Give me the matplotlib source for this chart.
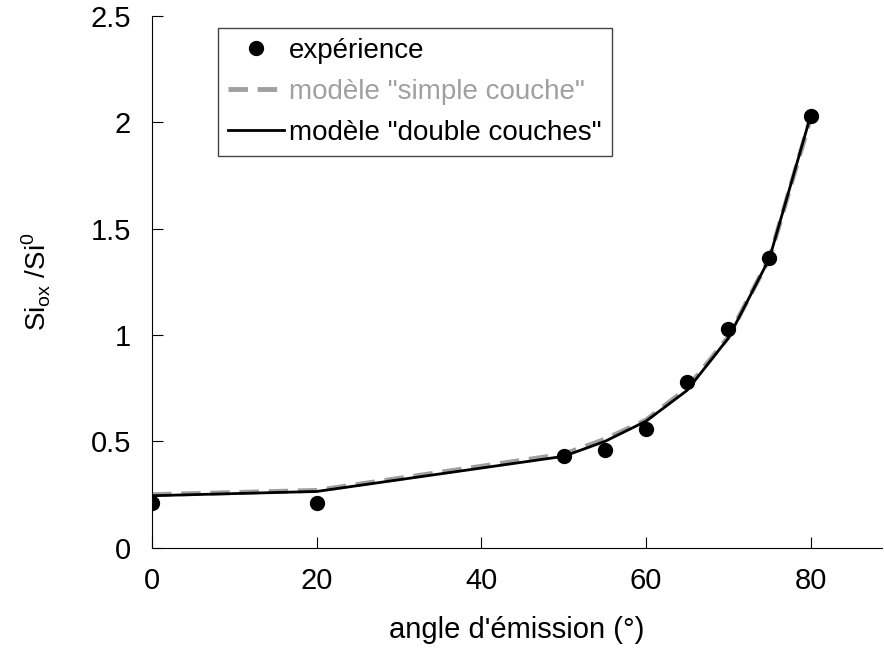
import numpy as np
import matplotlib.pyplot as plt

plt.rcParams['font.family'] = ['Liberation Sans', 'DejaVu Sans']

# données
angle_exp = [0, 20, 50, 55, 60, 65, 70, 75, 80]
ratio_exp = [0.21, 0.21, 0.43, 0.46, 0.56, 0.78, 1.03, 1.36, 2.03]

angle_mod = [0, 20, 50, 55, 60, 65, 70, 75, 80]
ratio_simple = [0.25, 0.27, 0.44, 0.51, 0.60, 0.75, 0.99, 1.36, 2.02]
ratio_double = [0.245, 0.265, 0.43, 0.50, 0.595, 0.74, 0.985, 1.36, 2.03]

fig = plt.figure(figsize=(8.84, 6.53), dpi=100)
ax = fig.add_axes([0.172, 0.161, 0.826, 0.815])

ax.plot(angle_mod, ratio_simple, '--', color='#a0a0a0', lw=3.5, dashes=(4, 2),
        label='modèle "simple couche"')
ax.plot(angle_mod, ratio_double, '-', color='black', lw=2,
        label='modèle "double couches"')
ax.plot(angle_exp, ratio_exp, 'o', color='black', ms=10, label='expérience',
        zorder=5)

ax.set_xlim(0, 88.7)
ax.set_ylim(0, 2.5)
ax.set_xticks([0, 20, 40, 60, 80])
ax.set_yticks([0, 0.5, 1, 1.5, 2, 2.5])
ax.set_yticklabels(['0', '0.5', '1', '1.5', '2', '2.5'])
ax.tick_params(direction='in', length=8, labelsize=21)
ax.tick_params(axis='y', pad=15)
ax.tick_params(axis='x', pad=14)
ax.spines['top'].set_visible(False)
ax.spines['right'].set_visible(False)

ax.set_xlabel("angle d'émission (°)", fontsize=21, labelpad=15)
ax.set_ylabel(r'Si$_{\mathregular{ox}}$ /Si$^{\mathregular{0}}$', fontsize=20,
              labelpad=27)

h, l = ax.get_legend_handles_labels()
order = [2, 0, 1]
leg = ax.legend([h[i] for i in order], [l[i] for i in order],
                loc='upper left', bbox_to_anchor=(0.091, 0.977), fontsize=20,
                fancybox=False, edgecolor='#444444', framealpha=1,
                handlelength=2.0, handletextpad=0.2, borderpad=0.35,
                labelspacing=0.55, borderaxespad=0,
                labelcolor=['black', '#a0a0a0', 'black'])
leg.get_frame().set_linewidth(1)

fig.savefig('out.png', dpi=100)
